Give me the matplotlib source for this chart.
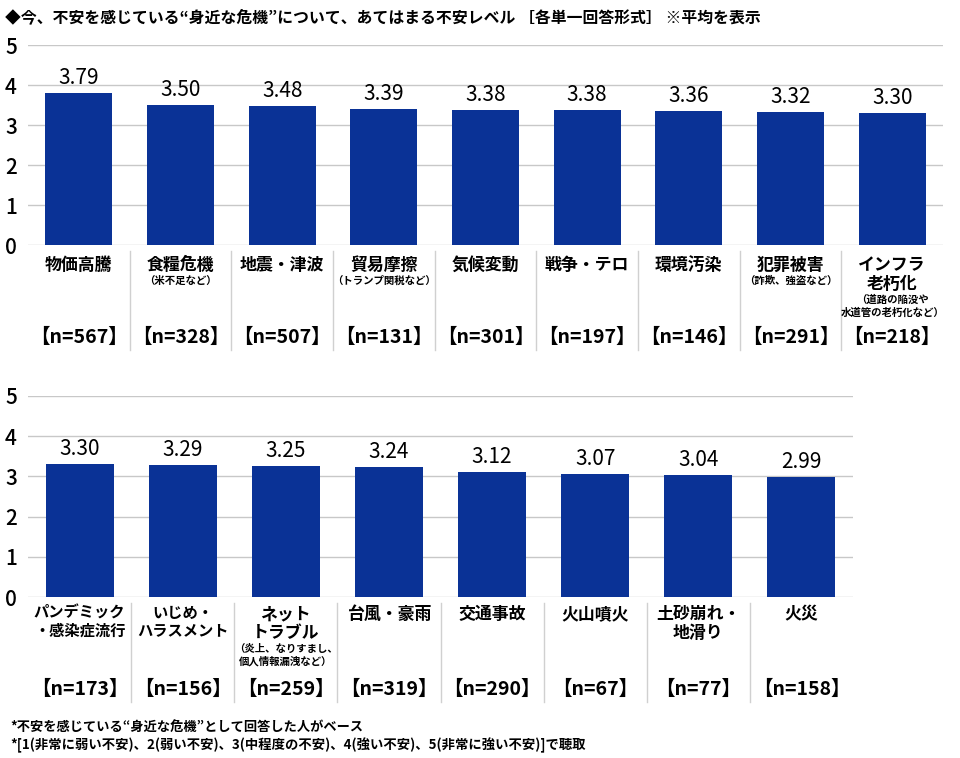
import matplotlib
matplotlib.use("Agg")
import matplotlib.pyplot as plt
from matplotlib.transforms import blended_transform_factory
from matplotlib.lines import Line2D

plt.rcParams['font.family'] = ['Noto Sans CJK JP', 'DejaVu Sans']

title = "◆今、不安を感じている“身近な危機”について、あてはまる不安レベル ［各単一回答形式］ ※平均を表示"

cats_top = ["物価高騰", "食糧危機", "地震・津波", "貿易摩擦", "気候変動", "戦争・テロ", "環境汚染", "犯罪被害", "インフラ\n老朽化"]
subs_top = ["", "（米不足など）", "", "（トランプ関税など）", "", "", "", "（詐欺、強盗など）", "（道路の陥没や\n水道管の老朽化など）"]
vals_top = [3.79, 3.50, 3.48, 3.39, 3.38, 3.38, 3.36, 3.32, 3.30]
n_top = [567, 328, 507, 131, 301, 197, 146, 291, 218]

cats_bot = ["パンデミック\n・感染症流行", "いじめ・\nハラスメント", "ネット\nトラブル", "台風・豪雨", "交通事故", "火山噴火", "土砂崩れ・\n地滑り", "火災"]
subs_bot = ["", "", "（炎上、なりすまし、\n個人情報漏洩など）", "", "", "", "", ""]
vals_bot = [3.30, 3.29, 3.25, 3.24, 3.12, 3.07, 3.04, 2.99]
n_bot = [173, 156, 259, 319, 290, 67, 77, 158]

notes = ["*不安を感じている“身近な危機”として回答した人がベース",
         "*[1(非常に弱い不安)、2(弱い不安)、3(中程度の不安)、4(強い不安)、5(非常に強い不安)]で聴取"]

W, H = 960, 758
BAR = '#0a3296'
GRID = '#c8c8c8'
fig = plt.figure(figsize=(W / 100, H / 100), dpi=100)
fig.text(5 / W, 1 - 17 / H, title, fontsize=11.4, fontweight='bold', va='center', ha='left')


def panel(x0, x1, y0px, y5px, cats, subs, vals, ns, lab_y, n_y, sep_top, sep_bot):
    ax = fig.add_axes([x0 / W, 1 - y0px / H, (x1 - x0) / W, (y0px - y5px) / H])
    k = len(cats)
    xs = list(range(k))
    ax.bar(xs, vals, width=0.66, color=BAR, zorder=3)
    ax.set_xlim(-0.5, k - 0.5)
    ax.set_ylim(0, 5)
    ax.set_yticks([0, 1, 2, 3, 4, 5])
    ax.tick_params(axis='y', length=0, labelsize=15, pad=8)
    for lb in ax.get_yticklabels():
        lb.set_fontweight('medium')
    ax.set_xticks([])
    for s in ax.spines.values():
        s.set_visible(False)
    ax.grid(axis='y', color=GRID, linewidth=1, zorder=0)
    for x, v in zip(xs, vals):
        ax.text(x, v + 0.1, f"{v:.2f}", ha='center', va='bottom', fontsize=15)
    py = lambda p: 1 - (p - y5px) / (y0px - y5px)
    tr = blended_transform_factory(ax.transData, ax.transAxes)
    for x, c, sb, n in zip(xs, cats, subs, ns):
        nl = c.count("\n") + 1
        longest = max(len(s) for s in c.split("\n"))
        fs = 11 if longest >= 6 else 12.2
        ax.text(x, py(lab_y), c, transform=tr, ha='center', va='top', fontsize=fs,
                fontweight='bold', linespacing=1.1, clip_on=False)
        if sb:
            sy = lab_y + nl * 19 + 1
            ax.text(x, py(sy), sb, transform=tr, ha='center', va='top', fontsize=7.5,
                    fontweight='bold', linespacing=1.25, clip_on=False)
        ax.text(x, py(n_y), f"【n={n}】", transform=tr, ha='center', va='center',
                fontsize=14, fontweight='bold', clip_on=False)
    for i in range(1, k):
        ax.add_line(Line2D([i - 0.5, i - 0.5], [py(sep_top), py(sep_bot)], transform=tr,
                           color='#d0d0d0', linewidth=1, clip_on=False))
    return ax


panel(28, 943, 245, 45, cats_top, subs_top, vals_top, n_top, 256, 337, 251, 350)
panel(28, 853, 597, 396, cats_bot, subs_bot, vals_bot, n_bot, 605, 689, 603, 702)

fig.text(10 / W, 1 - 727 / H, notes[0], fontsize=9.5, va='center', ha='left', fontweight='bold')
fig.text(10 / W, 1 - 745 / H, notes[1], fontsize=9.6, va='center', ha='left', fontweight='bold')

fig.savefig("out.png", dpi=100, facecolor='white')
